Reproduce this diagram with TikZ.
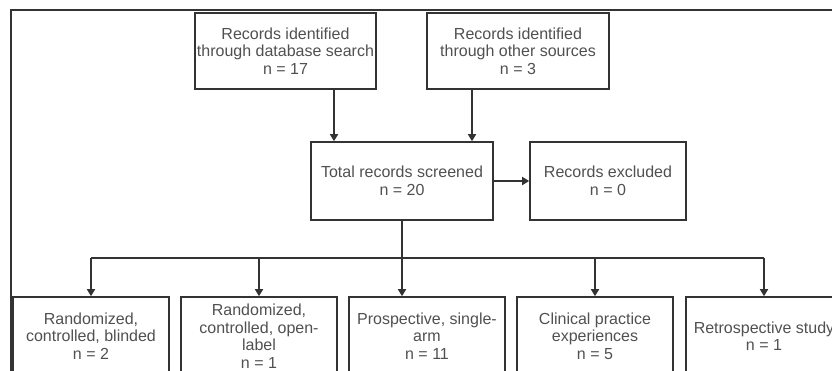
\documentclass[tikz,border=0pt]{standalone}
\usepackage{fontspec}
\setmainfont{Liberation Sans}
\usepackage{xcolor}
\usetikzlibrary{arrows.meta}

\definecolor{boxline}{HTML}{333333}
\definecolor{boxtext}{HTML}{505050}

\tikzset{
    box/.style={draw=boxline, rectangle, line width=1.6pt, inner sep=0pt,
        text=boxtext, align=center,
        font=\fontsize{16}{17.5}\selectfont},
    arr/.style={draw=boxline, line width=1.6pt, -{Triangle[width=8pt,length=7pt]}},
    bus/.style={draw=boxline, line width=1.6pt}
}

\begin{document}
\begin{tikzpicture}[x=1pt, y=-1pt]
        \useasboundingbox (0,0) rectangle (832,370);
        \clip (0,0) rectangle (832,370);

        % frame of the screenshot
        \draw[boxline, line width=2pt] (11,372) -- (11,10) -- (834,10);

        \node (n1) at (285.5, 51.0) [box, minimum width=181pt, minimum height=76pt] {Records identified\\through database search\\n = 17};
        \node (n2) at (518.0, 51.0) [box, minimum width=182pt, minimum height=76pt] {Records identified\\through other sources\\n = 3};
        \node (n3) at (402.0,181.0) [box, minimum width=182pt, minimum height=78pt] {Total records screened\\n = 20};
        \node (n4) at (608.0,181.0) [box, minimum width=156pt, minimum height=78pt] {Records excluded\\n = 0};

        \node (n5) at ( 91.0,336.0) [box, minimum width=156pt, minimum height=78pt] {Randomized,\\controlled, blinded\\n = 2};
        \node (n6) at (259.0,336.0) [box, minimum width=156pt, minimum height=78pt] {Randomized,\\controlled, open-\\label\\n = 1};
        \node (n7) at (427.0,336.0) [box, minimum width=156pt, minimum height=78pt] {Prospective, single-\\arm\\n = 11};
        \node (n8) at (595.0,336.0) [box, minimum width=156pt, minimum height=78pt] {Clinical practice\\experiences\\n = 5};
        \node (n9) at (764.0,336.0) [box, minimum width=156pt, minimum height=78pt] {Retrospective study\\n = 1};

        \coordinate (split) at (0,258);

        \draw[arr] ([xshift=-68pt]n3.north |- n1.south) -- ([xshift=-68pt]n3.north);
        \draw[arr] ([xshift=70pt]n3.north |- n2.south) -- ([xshift=70pt]n3.north);
        \draw[arr] (n3.east) -- (n4.west);

        \draw[arr] (n3.south) -- (n3.south |- n7.north);
        \draw[bus] (n5.north |- split) -- (n9.north |- split);
        \foreach \n in {n5, n6, n8, n9}
            \draw[arr] (\n.north |- split) -- (\n.north);
    \end{tikzpicture}
\end{document}
